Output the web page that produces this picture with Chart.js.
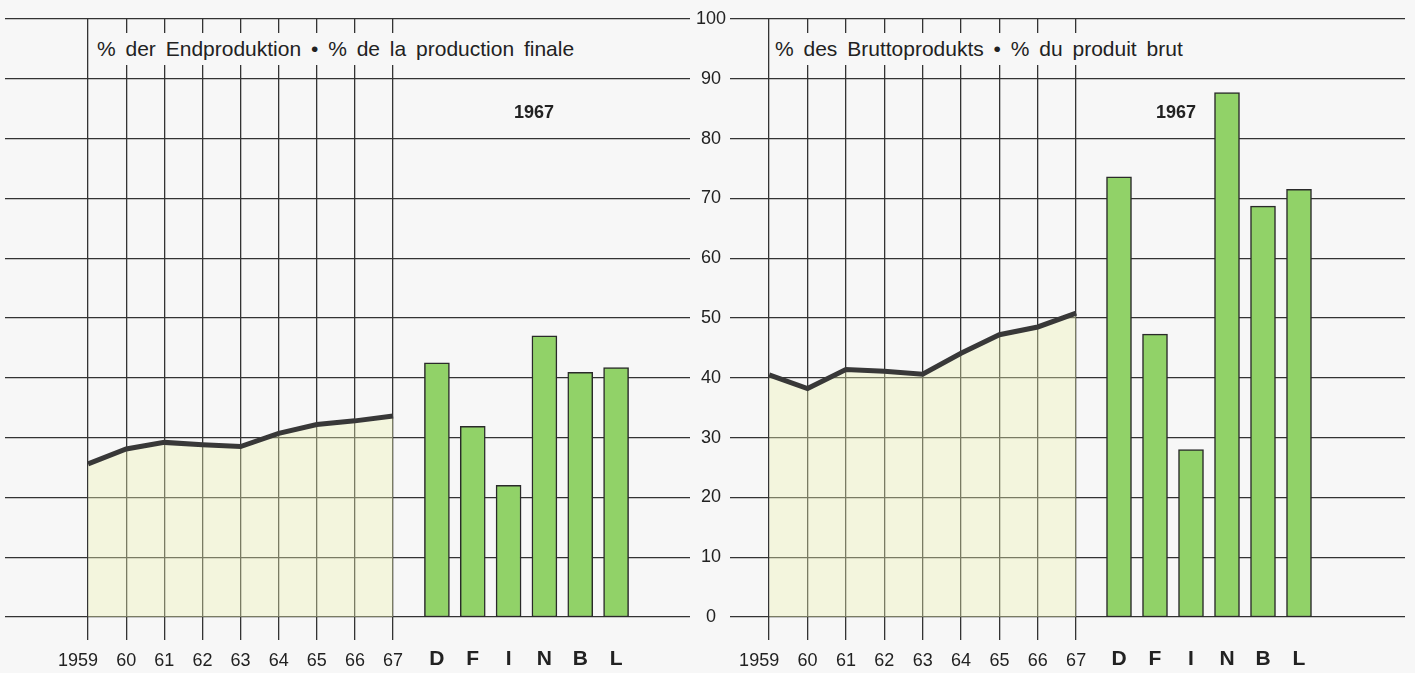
<!DOCTYPE html>
<html>
<head>
<meta charset="utf-8">
<script src="https://cdn.jsdelivr.net/npm/chart.js@4.4.1/dist/chart.umd.min.js"></script>
<style>
  html, body { margin: 0; padding: 0; background: #f7f7f7; }
  #wrap { position: relative; width: 1415px; height: 673px; overflow: hidden; }
  canvas { position: absolute; left: 0; top: 0; }
  .lbl { position: absolute; font-family: "Liberation Sans", Arial, sans-serif; color: #222; white-space: nowrap; }
  .ttl { font-size: 21px; line-height: 32px; top: 33px; padding: 0 4px; background: #f7f7f7; word-spacing: 4px; }
  .yr { font-size: 18px; font-weight: bold; top: 102px; }
</style>
</head>
<body>
<div id="wrap">
  <canvas id="leftLine" width="1415" height="673"></canvas>
  <canvas id="rightLine" width="1415" height="673"></canvas>
  <canvas id="leftBars" width="1415" height="673"></canvas>
  <canvas id="rightBars" width="1415" height="673"></canvas>
  <div class="lbl ttl" style="left:93px">% der Endproduktion • % de la production finale</div>
  <div class="lbl ttl" style="left:771px">% des Bruttoprodukts • % du produit brut</div>
  <div class="lbl yr" style="left:514px">1967</div>
  <div class="lbl yr" style="left:1156px">1967</div>
</div>
<script>
// data
const years = [1959, 1960, 1961, 1962, 1963, 1964, 1965, 1966, 1967];
const yearLabels = ['1959', '60', '61', '62', '63', '64', '65', '66', '67'];
const countries = ['D', 'F', 'I', 'N', 'B', 'L'];
// left: % der Endproduktion
const endShare = [25.6, 28.1, 29.2, 28.8, 28.5, 30.7, 32.2, 32.8, 33.6];
const endShare1967 = [42.5, 31.9, 22.0, 47.0, 40.9, 41.7];
// right: % des Bruttoprodukts
const grossShare = [40.5, 38.2, 41.4, 41.1, 40.6, 44.1, 47.2, 48.5, 50.8];
const grossShare1967 = [73.6, 47.3, 28.0, 87.7, 68.7, 71.5];

const FONT = '"Liberation Sans", Arial, sans-serif';
const INK = '#222';
const GRID = '#333';
Chart.defaults.font.family = FONT;
Chart.defaults.color = INK;

// x axis box runs from the zero line to the bottom edge (labels are clipped to it)
const fixHeight = s => { s.height = 56; };

// first year label sits a little left of its line in the original
const yearTick = (v, i) => (i === 0 ? yearLabels[i] + '    ' : yearLabels[i]);

function makeLine(id, values, pad, xMin, xMax, withLabels) {
  return new Chart(document.getElementById(id), {
    type: 'line',
    data: {
      datasets: [{
        data: years.map((yr, i) => ({ x: yr, y: values[i] })),
        borderColor: '#383838',
        borderWidth: 5,
        pointRadius: 0,
        tension: 0,
        fill: 'origin',
        backgroundColor: 'rgba(236, 242, 178, 0.38)'
      }]
    },
    options: {
      responsive: false,
      animation: false,
      devicePixelRatio: 1,
      layout: { padding: pad },
      plugins: { legend: { display: false }, tooltip: { enabled: false } },
      scales: {
        x: {
          type: 'linear',
          min: xMin,
          max: xMax,
          afterBuildTicks: s => { s.ticks = years.map(v => ({ value: v })); },
          afterFit: fixHeight,
          ticks: {
            callback: yearTick,
            font: { size: 18 },
            color: INK,
            padding: 10,
            autoSkip: false,
            maxRotation: 0
          },
          grid: { color: GRID, lineWidth: 1.3, tickLength: 23 },
          border: { display: false }
        },
        y: {
          min: 0,
          max: 100,
          position: withLabels ? 'right' : 'left',
          afterFit: s => { s.width = withLabels ? 40 : 0; },
          ticks: {
            display: withLabels,
            stepSize: 10,
            font: { size: 18 },
            color: INK,
            crossAlign: 'center',
            padding: 6
          },
          grid: { color: GRID, lineWidth: 1.3, drawTicks: false },
          border: { display: false }
        }
      }
    }
  });
}

function makeBars(id, values, pad) {
  return new Chart(document.getElementById(id), {
    type: 'bar',
    data: {
      labels: countries,
      datasets: [{
        data: values,
        backgroundColor: '#91d268',
        borderColor: '#2a2a2a',
        borderWidth: 1.5,
        borderSkipped: false,
        barThickness: 25
      }]
    },
    options: {
      responsive: false,
      animation: false,
      devicePixelRatio: 1,
      layout: { padding: pad },
      plugins: { legend: { display: false }, tooltip: { enabled: false } },
      scales: {
        x: {
          afterFit: fixHeight,
          ticks: { font: { size: 21, weight: 'bold' }, color: INK, padding: 7 },
          grid: { display: false, drawTicks: true, tickLength: 23 },
          border: { display: false }
        },
        y: { display: false, min: 0, max: 100 }
      }
    }
  });
}

makeLine('leftLine', endShare, { left: 5, right: 685, top: 19, bottom: 0 }, 1956.82, 1974.79, true);
makeLine('rightLine', grossShare, { left: 730, right: 10, top: 19, bottom: 0 }, 1957.98, 1975.57, false);
makeBars('leftBars', endShare1967, { left: 419, right: 781, top: 19, bottom: 0 });
makeBars('rightBars', grossShare1967, { left: 1101, right: 98, top: 19, bottom: 0 });
</script>
</body>
</html>
